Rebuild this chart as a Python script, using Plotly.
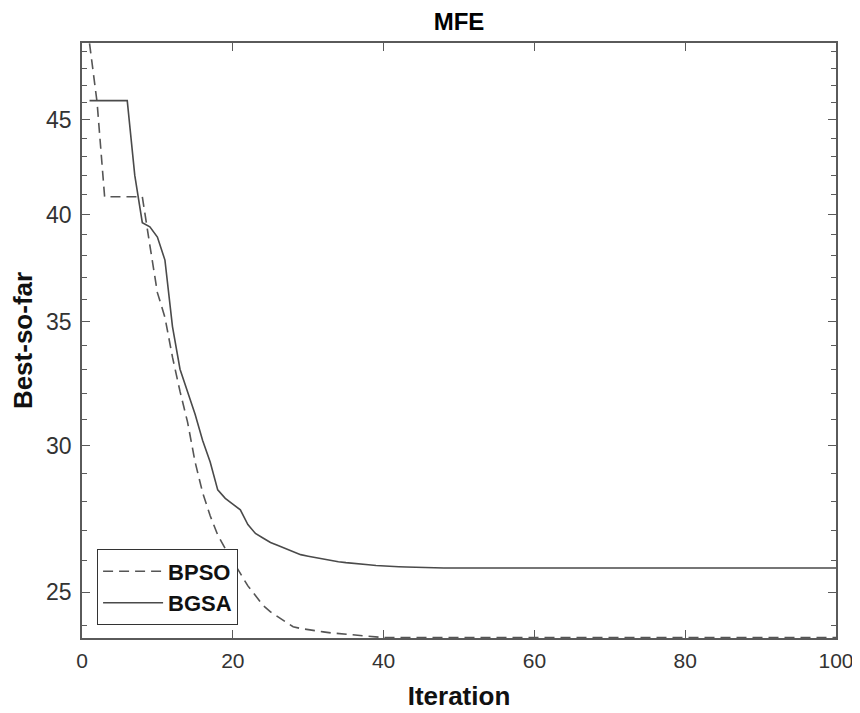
import math
import plotly.graph_objects as go

iterations = list(range(1, 101))

bpso_head = [49.5, 46.0, 40.9, 40.9, 40.9, 40.9, 40.9, 40.9, 38.5, 36.3,
             35.2, 33.5, 32.1, 30.9, 29.4, 28.3, 27.5, 26.85, 26.4, 26.0,
             25.6, 25.2, 24.9, 24.6, 24.4, 24.25, 24.1, 23.95, 23.9, 23.86,
             23.83, 23.8, 23.77, 23.75, 23.72, 23.7, 23.68, 23.65, 23.64]
bpso_tail_value = 23.63
bpso = bpso_head + [bpso_tail_value] * (100 - len(bpso_head))

bgsa_head = [46.1, 46.1, 46.1, 46.1, 46.1, 46.1, 42.0, 39.6, 39.4, 38.9,
             37.8, 34.8, 33.0, 32.1, 31.2, 30.2, 29.4, 28.4, 28.1, 27.9,
             27.7, 27.2, 26.9, 26.75, 26.6, 26.5, 26.4, 26.3, 26.2, 26.15,
             26.1, 26.05, 26.0, 25.97, 25.94, 25.91, 25.89, 25.87, 25.85, 25.83,
             25.82, 25.81, 25.8, 25.79, 25.78]
bgsa_tail_value = 25.77
bgsa = bgsa_head + [bgsa_tail_value] * (100 - len(bgsa_head))

x_ticks = [0, 20, 40, 60, 80, 100]
y_ticks = [25, 30, 35, 40, 45]
y_minor = [v for v in range(24, 50) if v not in y_ticks]

font_family = "Liberation Sans, Arial, sans-serif"
line_color = "#4a4a4a"
axis_color = "#5a5a5a"

fig = go.Figure()
fig.add_trace(go.Scatter(x=iterations, y=bpso, mode="lines", name="<b>BPSO</b>",
                         line=dict(color="#555555", width=1.6, dash="10px,6px")))
fig.add_trace(go.Scatter(x=iterations, y=bgsa, mode="lines", name="<b>BGSA</b>",
                         line=dict(color=line_color, width=1.6)))

ymin, ymax = min(bpso), max(bpso)
W, H = 852, 705
fig.update_layout(
    width=W, height=H,
    paper_bgcolor="white", plot_bgcolor="white",
    margin=dict(l=74, r=24, t=35, b=75, autoexpand=False),
    font=dict(family=font_family, color="#262626", size=20),
    title=dict(text="<b>MFE</b>", x=0.5, xref="paper", xanchor="center",
               y=1 - 14 / H, yanchor="middle", yref="container",
               font=dict(size=24, color="#000000")),
    showlegend=True,
    legend=dict(x=0.02, y=0.085, xanchor="left", yanchor="middle",
                bgcolor="white", bordercolor="#333333", borderwidth=1,
                font=dict(size=22, color="#111111", family=font_family),
                itemwidth=60, tracegroupgap=0),
)
fig.update_xaxes(
    range=[0, 100], tickvals=x_ticks, ticks="inside", ticklen=8,
    tickcolor=axis_color, showline=True, linecolor=axis_color, linewidth=1.5,
    mirror="ticks", showgrid=False, zeroline=False, automargin=False,
    tickfont=dict(size=21, color="#333333"), ticklabelstandoff=3,
    title=dict(text="<b>Iteration</b>", font=dict(size=26, color="#111111"), standoff=16),
)
fig.update_yaxes(
    type="log", range=[math.log10(ymin * 0.9995), math.log10(ymax * 1.0005)],
    tickvals=y_ticks, ticktext=[str(v) for v in y_ticks],
    ticks="inside", ticklen=8, tickcolor=axis_color,
    minor=dict(tickvals=y_minor, ticks="inside", ticklen=5, tickcolor=axis_color),
    showline=True, linecolor=axis_color, linewidth=1.5, mirror="ticks",
    showgrid=False, zeroline=False, automargin=False,
    tickfont=dict(size=23, color="#333333"), ticklabelstandoff=4,
    title=dict(text="<b>Best-so-far</b>", font=dict(size=26, color="#111111"), standoff=10),
)

fig.write_html("out.html")
